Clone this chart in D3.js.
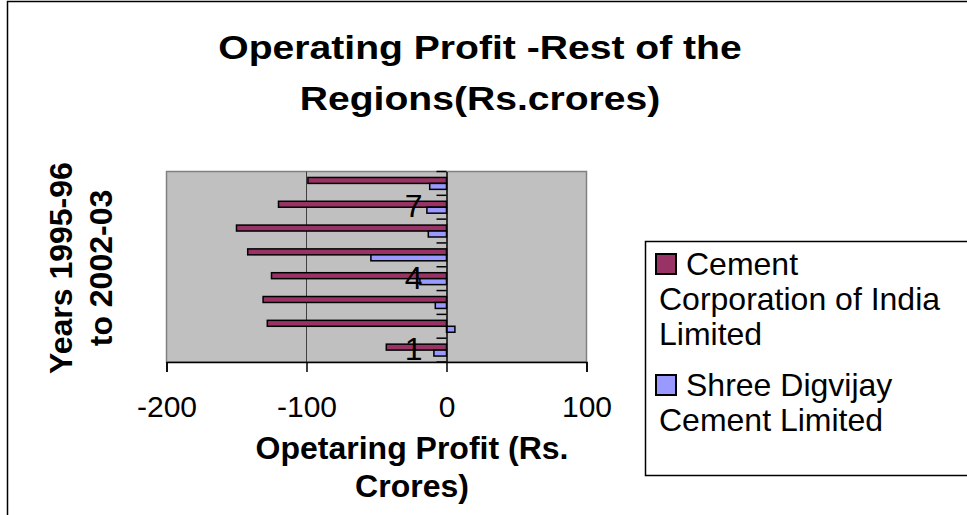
<!DOCTYPE html>
<html>
<head>
<meta charset="utf-8">
<script src="https://cdn.jsdelivr.net/npm/d3@7"></script>
<style>
  body { margin: 0; background: #fff; }
  svg { display: block; font-family: "Liberation Sans", Arial, sans-serif; }
</style>
</head>
<body>
<div id="chart"></div>
<script>
// Données (Rs. crores)
const categories = ["1", "2", "3", "4", "5", "6", "7", "8"];
const seriesNames = ["Cement Corporation of India Limited", "Shree Digvijay Cement Limited"];
const cementCorp = [-43, -128, -131, -125, -142, -150, -120, -99];
const shreeDigvijay = [-9, 6, -8, -19, -54, -13, -14, -12];
const xTicks = [-200, -100, 0, 100];
const shownCategoryLabels = ["1", "4", "7"];
const legendLines = [["Cement", "Corporation of India", "Limited"], ["Shree Digvijay", "Cement Limited"]];
const colors = ["#993366", "#9999FF"];

function drawChart(container) {
    const width = 967, height = 515;
    const plot = { left: 166.5, right: 586.5, top: 171.5, bottom: 362 };

    const svg = d3.select(container)
        .append("svg")
        .attr("width", width)
        .attr("height", height);

    // Cadre du graphique
    svg.append("rect")
        .attr("x", 7.5).attr("y", 1.5)
        .attr("width", 1000).attr("height", 600)
        .attr("fill", "#fff")
        .attr("stroke", "#000")
        .attr("stroke-width", 1.5);

    // Titre
    const titleLines = ["Operating Profit -Rest of the", "Regions(Rs.crores)"];
    svg.selectAll(".title")
        .data(titleLines)
        .enter()
        .append("text")
        .attr("class", "title")
        .attr("transform", (d, i) => "translate(480," + (59 + i * 51) + ") scale(1.15,1)")
        .attr("text-anchor", "middle")
        .attr("font-weight", "bold")
        .attr("font-size", 34)
        .text(d => d);

    const x = d3.scaleLinear()
        .domain([-200, 100])
        .range([plot.left, plot.right]);

    const y = d3.scaleBand()
        .domain(categories.slice().reverse())
        .range([plot.top, plot.bottom]);

    const sub = d3.scaleBand()
        .domain(seriesNames)
        .range([0, y.bandwidth()])
        .paddingOuter(1);

    // Zone de tracé
    svg.append("rect")
        .attr("x", plot.left).attr("y", plot.top)
        .attr("width", plot.right - plot.left)
        .attr("height", plot.bottom - plot.top)
        .attr("fill", "#C0C0C0")
        .attr("stroke", "#808080")
        .attr("stroke-width", 1.5);

    // Quadrillage vertical
    svg.selectAll(".grid")
        .data(xTicks.filter(t => t !== -200 && t !== 100 && t !== 0))
        .enter()
        .append("line")
        .attr("class", "grid")
        .attr("x1", d => x(d)).attr("x2", d => x(d))
        .attr("y1", plot.top).attr("y2", plot.bottom)
        .attr("stroke", "#404040")
        .attr("stroke-width", 1);

    // Barres
    const series = [cementCorp, shreeDigvijay];
    series.forEach((values, s) => {
        svg.selectAll(".bar" + s)
            .data(values)
            .enter()
            .append("rect")
            .attr("class", "bar" + s)
            .attr("x", d => x(Math.min(0, d)))
            .attr("width", d => Math.abs(x(d) - x(0)))
            .attr("y", (d, i) => y(categories[i]) + sub(seriesNames[s]))
            .attr("height", sub.bandwidth())
            .attr("fill", colors[s])
            .attr("stroke", "#000")
            .attr("stroke-width", 1.5);
    });

    // Axe des valeurs (bas)
    const xAxis = d3.axisBottom(x)
        .tickValues(xTicks)
        .tickSize(10)
        .tickPadding(24)
        .tickFormat(d => String(d));
    const gx = svg.append("g")
        .attr("transform", "translate(0," + plot.bottom + ")")
        .call(xAxis);
    gx.select(".domain").attr("stroke", "#000").attr("stroke-width", 1.5);
    gx.selectAll(".tick line").attr("stroke", "#000").attr("stroke-width", 1.5);
    gx.selectAll(".tick text")
        .attr("font-family", "Liberation Sans, Arial, sans-serif")
        .attr("font-size", 30)
        .attr("fill", "#000");

    // Axe des catégories (croise à 0)
    const yAxis = d3.axisLeft(y)
        .tickSize(0)
        .tickPadding(24)
        .tickFormat(d => shownCategoryLabels.includes(d) ? d : "");
    const gy = svg.append("g")
        .attr("transform", "translate(" + x(0) + ",0)")
        .call(yAxis);
    gy.select(".domain").attr("stroke", "#000").attr("stroke-width", 1.5);
    gy.selectAll(".tick text")
        .attr("font-family", "Liberation Sans, Arial, sans-serif")
        .attr("font-size", 32)
        .attr("fill", "#000");

    // Graduations entre les catégories
    const boundaries = categories.map(c => y(c)).concat([plot.bottom]);
    gy.selectAll(".cat-tick")
        .data(boundaries)
        .enter()
        .append("line")
        .attr("class", "cat-tick")
        .attr("x1", -10).attr("x2", 0)
        .attr("y1", d => d).attr("y2", d => d)
        .attr("stroke", "#000")
        .attr("stroke-width", 1.5);

    // Titre de l'axe X
    const xTitle = ["Opetaring Profit (Rs.", "Crores)"];
    svg.selectAll(".xtitle")
        .data(xTitle)
        .enter()
        .append("text")
        .attr("class", "xtitle")
        .attr("x", 412)
        .attr("y", (d, i) => 459 + i * 38)
        .attr("text-anchor", "middle")
        .attr("font-weight", "bold")
        .attr("font-size", 32)
        .text(d => d);

    // Titre de l'axe Y
    const yTitle = ["Years 1995-96", "to 2002-03"];
    svg.selectAll(".ytitle")
        .data(yTitle)
        .enter()
        .append("text")
        .attr("class", "ytitle")
        .attr("transform", (d, i) => "translate(" + (72 + i * 40) + ",268) rotate(-90)")
        .attr("text-anchor", "middle")
        .attr("font-weight", "bold")
        .attr("font-size", 32)
        .text(d => d);

    // Légende
    const legend = svg.append("g");
    legend.append("rect")
        .attr("x", 645.5).attr("y", 241.5)
        .attr("width", 400).attr("height", 234)
        .attr("fill", "#fff")
        .attr("stroke", "#000")
        .attr("stroke-width", 1.5);

    const itemTop = [254, 375];
    legendLines.forEach((lines, s) => {
        legend.append("rect")
            .attr("x", 656).attr("y", itemTop[s])
            .attr("width", 20).attr("height", 20)
            .attr("fill", colors[s])
            .attr("stroke", "#000")
            .attr("stroke-width", 2);
        legend.selectAll(".leg" + s)
            .data(lines)
            .enter()
            .append("text")
            .attr("class", "leg" + s)
            .attr("x", (d, i) => i === 0 ? 686 : 659)
            .attr("y", (d, i) => itemTop[s] + 21 + i * 35)
            .attr("font-size", 32)
            .text(d => d);
    });
}

drawChart(document.getElementById("chart"));
</script>
</body>
</html>
